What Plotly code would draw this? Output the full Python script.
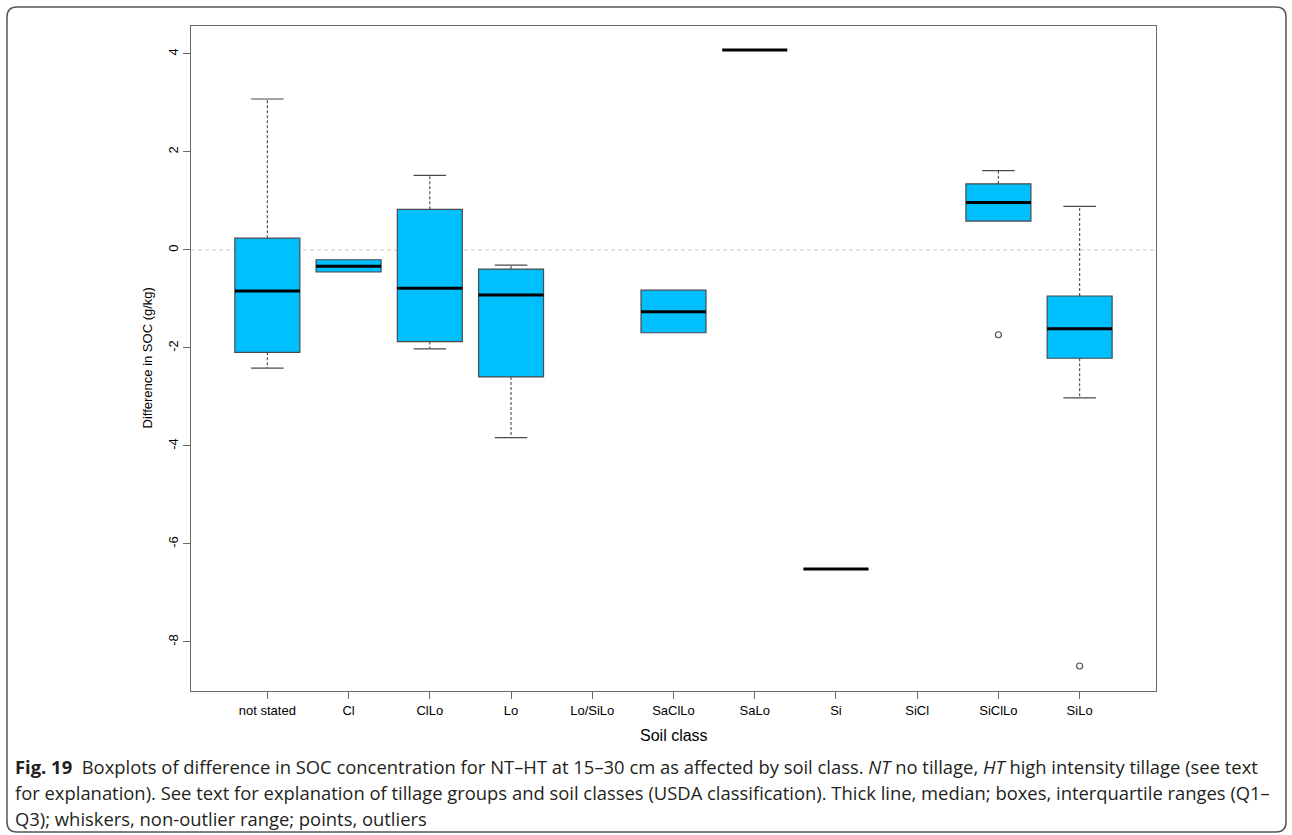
import plotly.graph_objects as go

categories = ["not stated", "Cl", "ClLo", "Lo", "Lo/SiLo", "SaClLo", "SaLo", "Si", "SiCl", "SiClLo", "SiLo"]
lower_whisker = [-2.41, -0.45, -2.02, -3.83, None, -1.69, 4.08, -6.51, None, 0.59, -3.02]
q1_vals = [-2.09, -0.45, -1.87, -2.59, None, -1.69, 4.08, -6.51, None, 0.59, -2.21]
median_vals = [-0.84, -0.33, -0.78, -0.92, None, -1.26, 4.08, -6.51, None, 0.97, -1.61]
q3_vals = [0.24, -0.20, 0.83, -0.39, None, -0.82, 4.08, -6.51, None, 1.35, -0.94]
upper_whisker = [3.08, -0.20, 1.52, -0.31, None, -0.82, 4.08, -6.51, None, 1.62, 0.89]
outlier_cat = ["SiClLo", "SiLo"]
outlier_vals = [-1.73, -8.49]
y_ticks = [-8, -6, -4, -2, 0, 2, 4]

W, H = 1292, 835
L, R, T, B = 191, 136, 26, 144
PW, PH = W - L - R, H - T - B
BOXW = 0.8
CAPW = 0.4


def px(x):
    return (x - L) / PW


def py(y):
    return (H - B - y) / PH


pos = {c: i + 1 for i, c in enumerate(categories)}
idx = [i for i, m in enumerate(median_vals) if m is not None]

fig = go.Figure()

# boxes
fig.add_trace(go.Box(
    x=[i + 1 for i in idx],
    q1=[q1_vals[i] for i in idx],
    median=[median_vals[i] for i in idx],
    q3=[q3_vals[i] for i in idx],
    lowerfence=[q1_vals[i] for i in idx],
    upperfence=[q3_vals[i] for i in idx],
    width=BOXW,
    fillcolor="#00BFFF",
    line=dict(color="#4a4a4a", width=1.2),
    boxpoints=False,
    whiskerwidth=0,
    showlegend=False,
    hoverinfo="skip",
))

# dashed whiskers
wx, wy = [], []
for i in idx:
    x = i + 1
    if upper_whisker[i] > q3_vals[i]:
        wx += [x, x, None]
        wy += [q3_vals[i], upper_whisker[i], None]
    if lower_whisker[i] < q1_vals[i]:
        wx += [x, x, None]
        wy += [q1_vals[i], lower_whisker[i], None]
fig.add_trace(go.Scatter(x=wx, y=wy, mode="lines",
                         line=dict(color="#4a4a4a", width=1.1, dash="3px,2px"),
                         showlegend=False, hoverinfo="skip"))

# staples
sx, sy = [], []
for i in idx:
    x = i + 1
    if upper_whisker[i] > q3_vals[i]:
        sx += [x - CAPW / 2, x + CAPW / 2, None]
        sy += [upper_whisker[i], upper_whisker[i], None]
    if lower_whisker[i] < q1_vals[i]:
        sx += [x - CAPW / 2, x + CAPW / 2, None]
        sy += [lower_whisker[i], lower_whisker[i], None]
fig.add_trace(go.Scatter(x=sx, y=sy, mode="lines",
                         line=dict(color="#4a4a4a", width=1.2),
                         showlegend=False, hoverinfo="skip"))

# medians
mx, my = [], []
for i in idx:
    x = i + 1
    mx += [x - BOXW / 2, x + BOXW / 2, None]
    my += [median_vals[i], median_vals[i], None]
fig.add_trace(go.Scatter(x=mx, y=my, mode="lines",
                         line=dict(color="#000000", width=3),
                         showlegend=False, hoverinfo="skip"))

# outliers
fig.add_trace(go.Scatter(x=[pos[c] for c in outlier_cat], y=outlier_vals, mode="markers",
                         marker=dict(symbol="circle-open", size=6, color="#4a4a4a",
                                     line=dict(width=1.1)),
                         showlegend=False, hoverinfo="skip"))

axis_font = dict(family="Liberation Sans, Arial, sans-serif", size=13, color="#000000")

fig.update_layout(
    width=W, height=H, autosize=False,
    margin=dict(l=L, r=R, t=T, b=B, pad=0),
    paper_bgcolor="white", plot_bgcolor="white",
    xaxis=dict(range=[0.06, 11.94], tickmode="array",
               tickvals=list(range(1, len(categories) + 1)), ticktext=categories,
               ticks="outside", ticklen=7, tickcolor="#6a6a6a", tickwidth=1.2,
               showline=True, mirror=True, linecolor="#6a6a6a", linewidth=1.4,
               showgrid=False, zeroline=False, tickfont=axis_font),
    yaxis=dict(range=[-9.0, 4.57], tickmode="array", tickvals=y_ticks,
               ticktext=[str(v) for v in y_ticks], tickangle=-90,
               ticks="outside", ticklen=7, tickcolor="#6a6a6a", tickwidth=1.2,
               showline=True, mirror=True, linecolor="#6a6a6a", linewidth=1.4,
               showgrid=False, zeroline=False, tickfont=axis_font),
    shapes=[
        dict(type="line", xref="paper", yref="y", x0=0, x1=1, y0=0, y1=0,
             line=dict(color="#c8c8c8", width=1, dash="4px,3px"), layer="below"),
    ],
)

# outer rounded frame
x0, y0, x1, y1, r = 7, 7, 1286, 832, 10
path = (f"M {px(x0 + r)},{py(y0)} L {px(x1 - r)},{py(y0)} Q {px(x1)},{py(y0)} {px(x1)},{py(y0 + r)} "
        f"L {px(x1)},{py(y1 - r)} Q {px(x1)},{py(y1)} {px(x1 - r)},{py(y1)} "
        f"L {px(x0 + r)},{py(y1)} Q {px(x0)},{py(y1)} {px(x0)},{py(y1 - r)} "
        f"L {px(x0)},{py(y0 + r)} Q {px(x0)},{py(y0)} {px(x0 + r)},{py(y0)} Z")
fig.add_shape(type="path", xref="paper", yref="paper", path=path,
              line=dict(color="#555555", width=1.5))

# axis titles
fig.add_annotation(text="Difference in SOC (g/kg)", xref="paper", yref="paper",
                   x=px(147), y=0.5, xanchor="center", yanchor="middle", textangle=-90,
                   showarrow=False, font=axis_font)
fig.add_annotation(text="Soil class", xref="paper", yref="paper",
                   x=0.5, y=py(735), xanchor="center", yanchor="middle",
                   showarrow=False, font=dict(family="Liberation Sans, Arial, sans-serif",
                                              size=16, color="#000000"))

cap_font = dict(family="Open Sans, sans-serif", size=18.4, color="#231f20")
caption = [
    "<b>Fig. 19</b>  Boxplots of difference in SOC concentration for NT–HT at 15–30 cm as affected by soil class. "
    "<i>NT</i> no tillage, <i>HT</i> high intensity tillage (see text",
    "for explanation). See text for explanation of tillage groups and soil classes (USDA classification). "
    "Thick line, median; boxes, interquartile ranges (Q1–",
    "Q3); whiskers, non-outlier range; points, outliers",
]
for k, line in enumerate(caption):
    fig.add_annotation(text=line, xref="paper", yref="paper", x=px(13), y=py(766 + 26 * k),
                       xanchor="left", yanchor="middle", showarrow=False, font=cap_font)

fig.write_html("out.html",
               config={"displayModeBar": False},
               post_script="document.body.style.margin='0';document.body.style.overflow='hidden';")
